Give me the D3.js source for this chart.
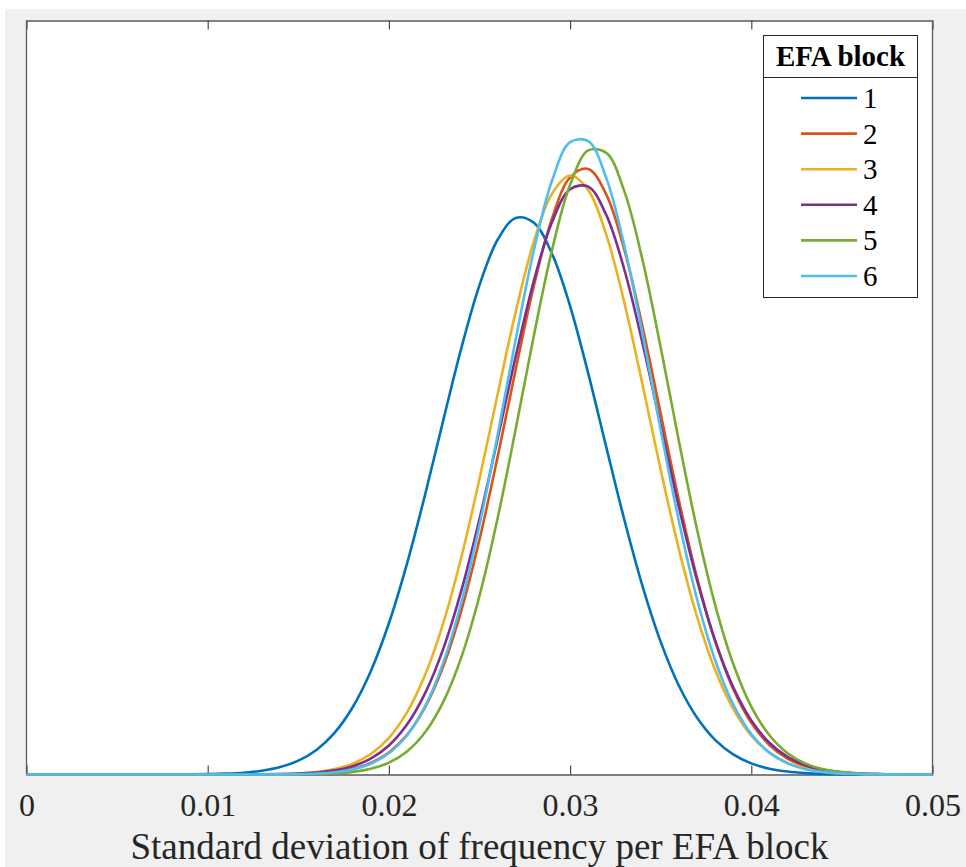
<!DOCTYPE html>
<html>
<head>
<meta charset="utf-8">
<script src="https://cdn.jsdelivr.net/npm/d3@7"></script>
<style>
  html, body { margin: 0; padding: 0; background: #ffffff; }
  svg { display: block; }
</style>
</head>
<body>
<svg id="chart" width="966" height="867"></svg>
<script>
// Evaluation grid: standard deviation of frequency
const sdGrid = [
  0.000, 0.001, 0.002, 0.003, 0.004, 0.005, 0.006, 0.007, 0.008, 0.009,
  0.010, 0.011, 0.012, 0.013, 0.014, 0.015, 0.016, 0.017, 0.018, 0.019,
  0.020, 0.021, 0.022, 0.023, 0.024, 0.025, 0.026, 0.027, 0.028, 0.029,
  0.030, 0.031, 0.032, 0.033, 0.034, 0.035, 0.036, 0.037, 0.038, 0.039,
  0.040, 0.041, 0.042, 0.043, 0.044, 0.045, 0.046, 0.047, 0.048, 0.049,
  0.050
];

// Density per EFA block, one value per grid point
const block1 = [
  0, 0, 0, 0, 0, 0, 0, 0.004, 0.010, 0.025,
  0.059, 0.135, 0.291, 0.601, 1.178, 2.197, 3.913, 6.629, 10.70, 16.44,
  24.07, 33.56, 44.56, 56.36, 67.89, 77.89, 85.10, 88.58, 87.81, 82.89,
  74.55, 63.84, 52.07, 40.46, 29.94, 21.10, 14.16, 9.06, 5.51, 3.20,
  1.766, 0.929, 0.465, 0.222, 0.101, 0.044, 0.018, 0.007, 0.003, 0.001,
  0
];
const block2 = [
  0, 0, 0, 0, 0, 0, 0, 0, 0, 0,
  0, 0.001, 0.004, 0.011, 0.031, 0.078, 0.186, 0.423, 0.906, 1.831,
  3.494, 6.298, 10.72, 17.21, 26.11, 37.39, 50.55, 64.51, 77.75, 88.46,
  95.03, 96.38, 92.29, 83.45, 71.22, 57.40, 43.68, 31.37, 21.28, 13.63,
  8.242, 4.704, 2.535, 1.291, 0.620, 0.281, 0.120, 0.049, 0.019, 0.007,
  0.002
];
const block3 = [
  0, 0, 0, 0, 0, 0, 0, 0, 0, 0,
  0.001, 0.004, 0.012, 0.031, 0.077, 0.182, 0.406, 0.859, 1.720, 3.257,
  5.834, 9.895, 15.87, 24.10, 34.61, 47.06, 60.52, 73.66, 84.83, 92.44,
  95.32, 93.00, 85.87, 75.02, 62.01, 48.51, 35.90, 25.15, 16.66, 10.45,
  6.200, 3.482, 1.850, 0.930, 0.442, 0.199, 0.085, 0.034, 0.013, 0.005,
  0.002
];
const block4 = [
  0, 0, 0, 0, 0, 0, 0, 0, 0, 0,
  0.001, 0.003, 0.009, 0.023, 0.057, 0.136, 0.307, 0.655, 1.327, 2.540,
  4.614, 7.942, 12.95, 20.00, 29.30, 40.65, 53.43, 66.56, 78.58, 87.89,
  93.15, 93.56, 89.03, 80.29, 68.60, 55.54, 42.62, 30.98, 21.35, 13.93,
  8.616, 5.051, 2.805, 1.476, 0.736, 0.348, 0.156, 0.066, 0.027, 0.010,
  0.004
];
const block5 = [
  0, 0, 0, 0, 0, 0, 0, 0, 0, 0,
  0, 0, 0.001, 0.003, 0.010, 0.028, 0.073, 0.180, 0.419, 0.919,
  1.894, 3.675, 6.716, 11.55, 18.68, 28.45, 40.78, 55.01, 69.84, 83.46,
  93.85, 99.32, 98.94, 92.76, 81.85, 67.97, 53.13, 39.08, 27.05, 17.63,
  10.81, 6.239, 3.390, 1.733, 0.834, 0.378, 0.161, 0.065, 0.024, 0.009,
  0.003
];
const block6 = [
  0, 0, 0, 0, 0, 0, 0, 0, 0, 0,
  0, 0.001, 0.003, 0.008, 0.023, 0.061, 0.155, 0.367, 0.817, 1.710,
  3.369, 6.242, 10.87, 17.80, 27.41, 39.71, 54.08, 69.28, 83.43, 94.49,
  100.64, 100.79, 94.92, 84.07, 70.02, 54.83, 40.39, 27.97, 18.22, 11.15,
  6.427, 3.480, 1.773, 0.849, 0.382, 0.162, 0.065, 0.024, 0.009, 0.003,
  0.001
];

const blockNames = ["1", "2", "3", "4", "5", "6"];
const blockColors = ["#0072BD", "#D95319", "#EDB120", "#7E2F8E", "#77AC30", "#4DBEEE"];
const tickValues = [0, 0.01, 0.02, 0.03, 0.04, 0.05];
const tickLabels = ["0", "0.01", "0.02", "0.03", "0.04", "0.05"];
const xTitle = "Standard deviation of frequency per EFA block";
const legendTitle = "EFA block";

const series = [block1, block2, block3, block4, block5, block6];

const svg = d3.select("#chart");
const W = 966, H = 867;
const plot = { left: 26.5, right: 932.5, top: 20.5, bottom: 774.5 };
const serif = "'Liberation Serif', 'Times New Roman', Times, serif";
const axisColor = "#262626";

// Figure background
svg.append("rect")
  .attr("x", 5).attr("y", 9)
  .attr("width", W - 5).attr("height", H - 9)
  .attr("fill", "#f0f0f0");

// Axes area
svg.append("rect")
  .attr("x", plot.left).attr("y", plot.top)
  .attr("width", plot.right - plot.left).attr("height", plot.bottom - plot.top)
  .attr("fill", "#ffffff");

const x = d3.scaleLinear().domain([0, 0.05]).range([plot.left, plot.right]);
const y = d3.scaleLinear().domain([0, 120]).range([plot.bottom, plot.top]);

// Bottom axis with inward ticks
const xAxis = d3.axisBottom(x)
  .tickValues(tickValues)
  .tickFormat((d, i) => tickLabels[i])
  .tickSizeInner(-9)
  .tickSizeOuter(0);
const gx = svg.append("g")
  .attr("transform", `translate(0,${plot.bottom})`)
  .call(xAxis);
gx.select(".domain").attr("stroke", "#5a5a5a").attr("stroke-width", 1.3);
gx.selectAll(".tick line").attr("stroke", "#4a4a4a").attr("stroke-width", 1.2);
gx.selectAll(".tick text")
  .attr("y", 41.5).attr("dy", null)
  .attr("font-family", serif)
  .attr("font-size", 32)
  .attr("fill", axisColor);

// Mirrored top ticks
const xTop = d3.axisTop(x)
  .tickValues(tickValues)
  .tickFormat("")
  .tickSizeInner(-9)
  .tickSizeOuter(0);
const gt = svg.append("g")
  .attr("transform", `translate(0,${plot.top})`)
  .call(xTop);
gt.select(".domain").attr("stroke", "#5a5a5a").attr("stroke-width", 1.3);
gt.selectAll(".tick line").attr("stroke", "#4a4a4a").attr("stroke-width", 1.2);

// Side box edges
svg.append("line")
  .attr("x1", plot.left).attr("x2", plot.left)
  .attr("y1", plot.top).attr("y2", plot.bottom)
  .attr("stroke", "#5a5a5a").attr("stroke-width", 1.3);
svg.append("line")
  .attr("x1", plot.right).attr("x2", plot.right)
  .attr("y1", plot.top).attr("y2", plot.bottom)
  .attr("stroke", "#5a5a5a").attr("stroke-width", 1.3);

// Axis title
svg.append("text")
  .attr("x", (plot.left + plot.right) / 2)
  .attr("y", 859)
  .attr("text-anchor", "middle")
  .attr("font-family", serif)
  .attr("font-size", 37)
  .attr("fill", axisColor)
  .text(xTitle);

// Density curves
svg.append("clipPath").attr("id", "plotClip")
  .append("rect")
  .attr("x", plot.left).attr("y", plot.top - 2)
  .attr("width", plot.right - plot.left).attr("height", plot.bottom - plot.top + 4);

const line = d3.line()
  .x((d, i) => x(sdGrid[i]))
  .y(d => y(d))
  .curve(d3.curveCatmullRom.alpha(0.5));

svg.append("g").attr("clip-path", "url(#plotClip)")
  .selectAll("path")
  .data(series)
  .join("path")
  .attr("d", d => line(d))
  .attr("fill", "none")
  .attr("stroke", (d, i) => blockColors[i])
  .attr("stroke-width", 2.6)
  .attr("stroke-linejoin", "round");

// Legend
const lg = { x: 763, y: 35, w: 154, h: 262, sep: 77 };
const legend = svg.append("g");
legend.append("rect")
  .attr("x", lg.x + 0.5).attr("y", lg.y + 0.5)
  .attr("width", lg.w).attr("height", lg.h)
  .attr("fill", "#ffffff")
  .attr("stroke", "#262626").attr("stroke-width", 1);
legend.append("line")
  .attr("x1", lg.x + 0.5).attr("x2", lg.x + lg.w + 0.5)
  .attr("y1", lg.sep + 0.5).attr("y2", lg.sep + 0.5)
  .attr("stroke", "#262626").attr("stroke-width", 1);
legend.append("text")
  .attr("x", lg.x + lg.w / 2 + 0.5)
  .attr("y", 66)
  .attr("text-anchor", "middle")
  .attr("font-family", serif)
  .attr("font-weight", "bold")
  .attr("font-size", 29)
  .attr("fill", "#000000")
  .text(legendTitle);

const itemY = d3.scaleLinear().domain([0, 5]).range([98, 276]);
const items = legend.selectAll("g.item")
  .data(blockNames)
  .join("g")
  .attr("class", "item")
  .attr("transform", (d, i) => `translate(0,${itemY(i)})`);
items.append("line")
  .attr("x1", 801).attr("x2", 857)
  .attr("y1", 0).attr("y2", 0)
  .attr("stroke", (d, i) => blockColors[i])
  .attr("stroke-width", 2.6);
items.append("text")
  .attr("x", 863)
  .attr("y", 10)
  .attr("font-family", serif)
  .attr("font-size", 29)
  .attr("fill", "#000000")
  .text(d => d);
</script>
</body>
</html>
